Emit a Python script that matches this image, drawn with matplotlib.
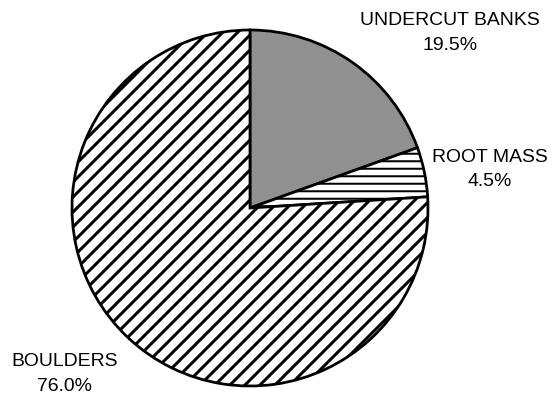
import matplotlib
matplotlib.use("Agg")
import matplotlib.pyplot as plt

# Share of cover types (percent)
categories = ["UNDERCUT BANKS", "ROOT MASS", "BOULDERS"]
shares = [19.5, 4.5, 76.0]

plt.rcParams['font.family'] = ['Liberation Sans', 'DejaVu Sans']
plt.rcParams['hatch.linewidth'] = 2.4

DPI = 90
W, H = 556, 396
fig = plt.figure(figsize=(W / DPI, H / DPI), dpi=DPI)

# pie centre (250, 208) px, radius 178 px
cx, cy, r = 250, 208, 178
ax = fig.add_axes([(cx - r) / W, (H - cy - r) / H, 2 * r / W, 2 * r / H])

wedges, _ = ax.pie(shares, startangle=90, counterclock=False,
                   colors=['#909090', 'white', 'white'],
                   wedgeprops=dict(edgecolor='black', linewidth=2.2))
wedges[1].set_hatch('--')
wedges[2].set_hatch('//')
if hasattr(wedges[1], 'set_hatch_linewidth'):
    wedges[1].set_hatch_linewidth(1.6)
    wedges[2].set_hatch_linewidth(2.4)
ax.set_xlim(-1, 1)
ax.set_ylim(-1, 1)
ax.set_aspect('equal')
ax.axis('off')

# label positions in pixels (x centre, baseline of first line, baseline of second)
label_pos = [(450, 25, 50), (490, 162, 186), (65, 366, 391)]
for name, val, (lx, b1, b2) in zip(categories, shares, label_pos):
    fig.text(lx / W, 1 - b1 / H, name, ha='center', va='baseline', fontsize=15.5)
    fig.text(lx / W, 1 - b2 / H, f"{val:.1f}%", ha='center', va='baseline', fontsize=15.5)

fig.savefig("out.png", dpi=DPI)
